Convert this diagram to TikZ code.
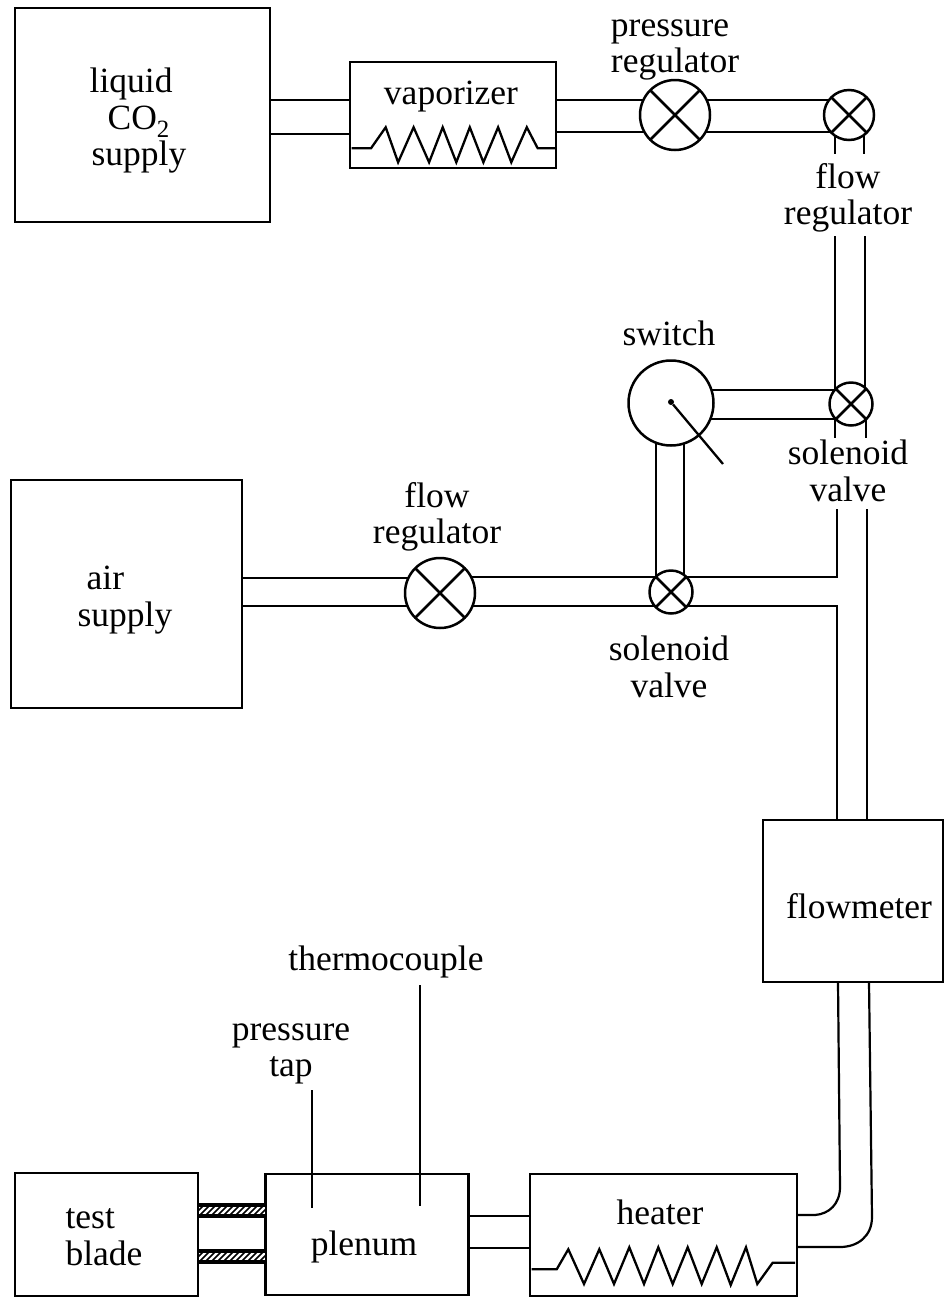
\documentclass[tikz,border=0pt]{standalone}
\usepackage{fontspec}
\setmainfont{Liberation Serif}
\pgfdeclarelayer{pipes}
\pgfsetlayers{pipes,main}
\begin{document}
\begin{tikzpicture}[x=1pt,y=-1pt,line join=miter,
  box/.style={draw,line width=2.1pt,inner sep=0pt,outer sep=0pt},
  valve/.style={circle,draw,fill=white,line width=2.5pt,inner sep=0pt,outer sep=0pt},
  pipe/.style={line width=2.2pt},
  coil/.style={line width=2.3pt},
  lbl/.style={font=\fontsize{35.5}{36.5}\selectfont,inner sep=0pt,align=center},
  hatchband/.style={fill=white,inner sep=0pt,outer sep=0pt,minimum width=66pt,minimum height=11pt,
    path picture={\foreach \i in {-2,...,11}{\draw[line width=1.6pt] ([xshift=\i*6pt]path picture bounding box.south west) -- ++(11pt,11pt);}}}
]
\useasboundingbox (0,0) rectangle (944,1299);
% boxes
\node[box,minimum width=255pt,minimum height=214pt] (liquid) at (142.5,115) {};
\node[box,minimum width=206pt,minimum height=106pt] (vap) at (453,115) {};
\node[box,minimum width=231pt,minimum height=228pt] (air) at (126.5,594) {};
\node[box,minimum width=180pt,minimum height=162pt] (fm) at (853,901) {};
\node[box,minimum width=183pt,minimum height=123pt] (blade) at (106.5,1234.5) {};
\node[box,minimum width=203pt,minimum height=121pt] (plenum) at (367,1234.5) {};
\node[box,minimum width=267pt,minimum height=122pt] (heater) at (663.5,1235) {};
% valves
\node[valve,minimum size=70pt] (preg) at (675,115) {};
\node[valve,minimum size=50pt] (freg) at (849,115) {};
\node[valve,minimum size=85pt] (sw) at (671,403) {};
\node[valve,minimum size=43pt] (sol1) at (851,404) {};
\node[valve,minimum size=70pt] (areg) at (440,593) {};
\node[valve,minimum size=43pt] (sol2) at (671,592) {};
% valve crosses
\foreach \v in {preg,freg,sol1,areg,sol2}{
  \draw[line width=2.5pt] (\v.45) -- (\v.225) (\v.135) -- (\v.315);
}
% switch needle
\node[circle,fill,inner sep=0pt,minimum size=6pt] (pivot) at (671,402) {};
\coordinate (needle) at (723,464);
\draw[line width=2.3pt] (pivot) -- (needle);
% named free ends and bends
\coordinate (fa) at (835,154); \coordinate (fb) at (864,154);
\coordinate (fc) at (835,236); \coordinate (fd) at (865,236);
\coordinate (sa) at (835,438); \coordinate (sb) at (866,438);
\coordinate (ja) at (837,577); \coordinate (jb) at (837,509); \coordinate (jc) at (867,509);
\coordinate (jd) at (837,606);
\coordinate (ptop) at (312,1090); \coordinate (pend) at (312,1208);
\coordinate (ttop) at (420,985); \coordinate (tend) at (420,1206);
\begin{pgfonlayer}{pipes}
% top row
\draw[pipe] (liquid.east |- 0,100) -- (vap.west |- 0,100);
\draw[pipe] (liquid.east |- 0,134) -- (vap.west |- 0,134);
\draw[pipe] (vap.east |- 0,100) -- (preg |- 0,100);
\draw[pipe] (vap.east |- 0,132) -- (preg |- 0,132);
\draw[pipe] (preg |- 0,100) -- (freg |- 0,100);
\draw[pipe] (preg |- 0,132) -- (freg |- 0,132);
% flow regulator to solenoid
\draw[pipe] (freg |- 0,115) ++(-14,0) -- (fa);
\draw[pipe] (freg |- 0,115) ++(15,0) -- (fb);
\draw[pipe] (fc) -- (fc |- sol1);
\draw[pipe] (fd) -- (fd |- sol1);
% switch to solenoid
\draw[pipe] (sw |- 0,390) -- (sol1 |- 0,390);
\draw[pipe] (sw |- 0,419) -- (sol1 |- 0,419);
\draw[pipe] (sa |- sol1) -- (sa);
\draw[pipe] (sb |- sol1) -- (sb);
% switch to lower solenoid
\draw[pipe] (656,0 |- sw) -- (656,0 |- sol2);
\draw[pipe] (684,0 |- sw) -- (684,0 |- sol2);
% air row
\draw[pipe] (air.east |- 0,578) -- (areg |- 0,578);
\draw[pipe] (air.east |- 0,606) -- (areg |- 0,606);
\draw[pipe] (areg |- 0,577) -- (sol2 |- 0,577);
\draw[pipe] (areg |- 0,606) -- (sol2 |- 0,606);
\draw[pipe] (sol2 |- ja) -- (ja) -- (jb);
\draw[pipe] (sol2 |- jd) -- (jd) -- (fm.north -| jd);
\draw[pipe] (jc) -- (fm.north -| jc);
% flowmeter to heater
\draw[pipe] (fm.south -| 838,0) -- (840,1187) .. controls (840,1204) and (829,1214) .. (815,1215) -- (heater.east |- 0,1215);
\draw[pipe] (fm.south -| 869,0) -- (872,1217) .. controls (872,1236) and (858,1247) .. (840,1247) -- (heater.east |- 0,1247);
% plenum to heater
\draw[pipe] (plenum.east |- 0,1216) -- (heater.west |- 0,1216);
\draw[pipe] (plenum.east |- 0,1248) -- (heater.west |- 0,1248);
\end{pgfonlayer}
% hatched connectors
\node[hatchband] (h1) at (232,1210.5) {};
\node[hatchband] (h2) at (232,1256.5) {};
\foreach \h in {h1,h2}{
  \draw[line width=3.4pt] (\h.north west) -- (\h.north east) (\h.south west) -- (\h.south east);
}
% probes
\draw[pipe] (ptop) -- (pend);
\draw[pipe] (ttop) -- (tend);
% coils
\draw[coil] (351.6,148.3) -- (371,148.3) -- (385.7,127.3) -- (398.1,162.3) -- (413.6,127.3) -- (429.1,162.3) -- (442.7,127.3) -- (456.3,162.3) -- (469.8,127.3) -- (483.4,162.3) -- (498.1,127.3) -- (511.3,162.3) -- (526.8,127.3) -- (537.7,148.3) -- (555.1,148.3);
\draw[coil] (531.7,1269.3) -- (556.7,1269.3) -- (568.3,1249.3) -- (584,1284) -- (599.3,1249.3) -- (614,1284) -- (629.3,1247.3) -- (644,1284) -- (658.3,1247.3) -- (672.7,1284) -- (687.7,1247.3) -- (701.7,1284) -- (716.7,1247.3) -- (730.7,1285) -- (746,1247.3) -- (757.3,1284) -- (772.7,1262.7) -- (795,1262.7);
% labels
\node[lbl,align=left] (tliquid) at (138,121) {liquid\\\hspace{18pt}\smash{CO\textsubscript{2}}\\\hspace{2pt}supply};
\node[lbl] (tvap) at (451,97) {vaporizer};
\node[lbl,align=left] (tpreg) at (675,50) {pressure\\regulator};
\node[lbl] (tfreg) at (848,198) {flow\\regulator};
\node[lbl] (tsw) at (669,333) {switch};
\node[lbl] (tsol1) at (848,471) {solenoid\\valve};
\node[lbl] (tareg) at (437,517) {flow\\regulator};
\node[lbl] (tsol2) at (669,667) {solenoid\\valve};
\node[lbl,align=left] (tair) at (125,600) {\hspace{9pt}air\\supply};
\node[lbl] (tfm) at (859,906) {flowmeter};
\node[lbl] (tth) at (386,962) {thermocouple};
\node[lbl] (tpt) at (291,1054) {pressure\\tap};
\node[lbl,align=left] (tblade) at (104,1237) {test\\blade};
\node[lbl] (tplen) at (364,1247) {plenum};
\node[lbl] (thtr) at (660,1212) {heater};
\end{tikzpicture}
\end{document}
